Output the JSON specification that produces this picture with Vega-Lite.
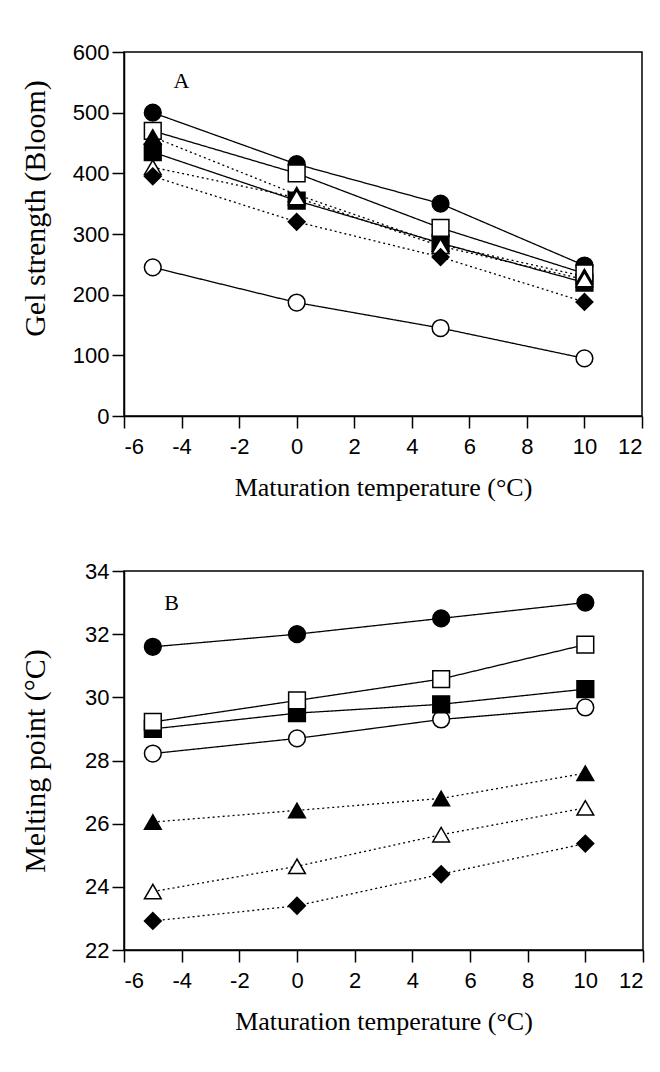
{
  "$schema": "https://vega.github.io/schema/vega-lite/v6.json",
  "padding": {"left": 19, "top": 40, "right": 5, "bottom": 5},
  "background": "white",
  "spacing": 58,
  "config": {
    "view": {"stroke": "black", "strokeWidth": 1.5},
    "axis": {
      "grid": false,
      "domainColor": "black",
      "domainWidth": 1.5,
      "tickColor": "black",
      "tickWidth": 1.5,
      "tickSize": 12,
      "labelFont": "Liberation Sans",
      "labelFontSize": 22,
      "labelColor": "black",
      "titleFont": "Liberation Serif",
      "titleFontWeight": "normal",
      "titleColor": "black"
    }
  },
  "datasets": {
    "gel": [
      {"series": "s1", "temp": -5, "value": 500},
      {"series": "s1", "temp": 0, "value": 415},
      {"series": "s1", "temp": 5, "value": 350},
      {"series": "s1", "temp": 10, "value": 248},
      {"series": "s2", "temp": -5, "value": 245},
      {"series": "s2", "temp": 0, "value": 187},
      {"series": "s2", "temp": 5, "value": 145},
      {"series": "s2", "temp": 10, "value": 95},
      {"series": "s3", "temp": -5, "value": 435},
      {"series": "s3", "temp": 0, "value": 355},
      {"series": "s3", "temp": 5, "value": 285},
      {"series": "s3", "temp": 10, "value": 220},
      {"series": "s4", "temp": -5, "value": 470},
      {"series": "s4", "temp": 0, "value": 400},
      {"series": "s4", "temp": 5, "value": 310},
      {"series": "s4", "temp": 10, "value": 235},
      {"series": "s5", "temp": -5, "value": 460},
      {"series": "s5", "temp": 0, "value": 365},
      {"series": "s5", "temp": 5, "value": 283},
      {"series": "s5", "temp": 10, "value": 230},
      {"series": "s6", "temp": -5, "value": 410},
      {"series": "s6", "temp": 0, "value": 360},
      {"series": "s6", "temp": 5, "value": 280},
      {"series": "s6", "temp": 10, "value": 225},
      {"series": "s7", "temp": -5, "value": 395},
      {"series": "s7", "temp": 0, "value": 320},
      {"series": "s7", "temp": 5, "value": 262},
      {"series": "s7", "temp": 10, "value": 188}
    ],
    "melt": [
      {"series": "s1", "temp": -5, "value": 31.6},
      {"series": "s1", "temp": 0, "value": 32.0},
      {"series": "s1", "temp": 5, "value": 32.5},
      {"series": "s1", "temp": 10, "value": 33.0},
      {"series": "s2", "temp": -5, "value": 28.22},
      {"series": "s2", "temp": 0, "value": 28.7},
      {"series": "s2", "temp": 5, "value": 29.3},
      {"series": "s2", "temp": 10, "value": 29.68},
      {"series": "s3", "temp": -5, "value": 29.0},
      {"series": "s3", "temp": 0, "value": 29.5},
      {"series": "s3", "temp": 5, "value": 29.78},
      {"series": "s3", "temp": 10, "value": 30.26},
      {"series": "s4", "temp": -5, "value": 29.22},
      {"series": "s4", "temp": 0, "value": 29.9},
      {"series": "s4", "temp": 5, "value": 30.58},
      {"series": "s4", "temp": 10, "value": 31.67},
      {"series": "s5", "temp": -5, "value": 26.05},
      {"series": "s5", "temp": 0, "value": 26.42},
      {"series": "s5", "temp": 5, "value": 26.8},
      {"series": "s5", "temp": 10, "value": 27.6},
      {"series": "s6", "temp": -5, "value": 23.85},
      {"series": "s6", "temp": 0, "value": 24.65},
      {"series": "s6", "temp": 5, "value": 25.65},
      {"series": "s6", "temp": 10, "value": 26.5},
      {"series": "s7", "temp": -5, "value": 22.92},
      {"series": "s7", "temp": 0, "value": 23.4},
      {"series": "s7", "temp": 5, "value": 24.4},
      {"series": "s7", "temp": 10, "value": 25.37}
    ],
    "labA": [{"label": "A", "temp": -4.0, "value": 553}],
    "labB": [{"label": "B", "temp": -4.35, "value": 33.0}]
  },
  "vconcat": [
    {
      "width": 518,
      "height": 364,
      "layer": [
        {
          "data": {"name": "gel"},
          "mark": {"type": "line", "color": "black", "strokeWidth": 1.3},
          "encoding": {
            "x": {"field": "temp", "type": "quantitative", "scale": {"domain": [-6, 12], "nice": false, "zero": false},
                  "axis": {"values": [-6, -4, -2, 0, 2, 4, 6, 8, 10, 12], "labelPadding": 8, "labelExpr": "replace(datum.label, '−', '-')", "title": "Maturation temperature (°C)", "titleFontSize": 26, "titlePadding": 17}},
            "y": {"field": "value", "type": "quantitative", "scale": {"domain": [0, 600], "nice": false},
                  "axis": {"values": [0, 100, 200, 300, 400, 500, 600], "labelPadding": 3, "title": "Gel strength (Bloom)", "titleFontSize": 30, "titlePadding": 22, "titleY": 156}},
            "detail": {"field": "series"},
            "strokeDash": {"field": "series", "type": "nominal", "legend": null,
                           "scale": {"domain": ["s1", "s2", "s3", "s4", "s5", "s6", "s7"], "range": [[1, 0], [1, 0], [1, 0], [1, 0], [2, 3], [2, 3], [2, 3]]}}
          }
        },
        {
          "data": {"name": "gel"},
          "mark": {"type": "point", "filled": true, "stroke": "black", "strokeWidth": 1.5, "opacity": 1},
          "encoding": {
            "x": {"field": "temp", "type": "quantitative"},
            "y": {"field": "value", "type": "quantitative"},
            "shape": {"field": "series", "type": "nominal", "legend": null,
                      "scale": {"domain": ["s1", "s2", "s3", "s4", "s5", "s6", "s7"], "range": ["circle", "circle", "square", "square", "triangle-up", "triangle-up", "diamond"]}},
            "size": {"field": "series", "type": "nominal", "legend": null,
                     "scale": {"domain": ["s1", "s2", "s3", "s4", "s5", "s6", "s7"], "range": [280, 280, 290, 290, 440, 440, 500]}},
            "fill": {"field": "series", "type": "nominal", "legend": null,
                     "scale": {"domain": ["s1", "s2", "s3", "s4", "s5", "s6", "s7"], "range": ["black", "white", "black", "white", "black", "white", "black"]}}
          }
        },
        {
          "data": {"name": "labA"},
          "mark": {"type": "text", "font": "Liberation Serif", "fontSize": 22, "color": "black", "align": "center", "baseline": "middle"},
          "encoding": {
            "x": {"field": "temp", "type": "quantitative"},
            "y": {"field": "value", "type": "quantitative"},
            "text": {"field": "label"}
          }
        }
      ]
    },
    {
      "width": 519,
      "height": 379,
      "layer": [
        {
          "data": {"name": "melt"},
          "mark": {"type": "line", "color": "black", "strokeWidth": 1.3},
          "encoding": {
            "x": {"field": "temp", "type": "quantitative", "scale": {"domain": [-6, 12], "nice": false, "zero": false},
                  "axis": {"values": [-6, -4, -2, 0, 2, 4, 6, 8, 10, 12], "labelPadding": 8, "labelExpr": "replace(datum.label, '−', '-')", "title": "Maturation temperature (°C)", "titleFontSize": 26, "titlePadding": 17}},
            "y": {"field": "value", "type": "quantitative", "scale": {"domain": [22, 34], "nice": false, "zero": false},
                  "axis": {"values": [22, 24, 26, 28, 30, 32, 34], "labelPadding": 3, "title": "Melting point (°C)", "titleFontSize": 30, "titlePadding": 34}},
            "detail": {"field": "series"},
            "strokeDash": {"field": "series", "type": "nominal", "legend": null,
                           "scale": {"domain": ["s1", "s2", "s3", "s4", "s5", "s6", "s7"], "range": [[1, 0], [1, 0], [1, 0], [1, 0], [2, 3], [2, 3], [2, 3]]}}
          }
        },
        {
          "data": {"name": "melt"},
          "mark": {"type": "point", "filled": true, "stroke": "black", "strokeWidth": 1.5, "opacity": 1},
          "encoding": {
            "x": {"field": "temp", "type": "quantitative"},
            "y": {"field": "value", "type": "quantitative"},
            "shape": {"field": "series", "type": "nominal", "legend": null,
                      "scale": {"domain": ["s1", "s2", "s3", "s4", "s5", "s6", "s7"], "range": ["circle", "circle", "square", "square", "triangle-up", "triangle-up", "diamond"]}},
            "size": {"field": "series", "type": "nominal", "legend": null,
                     "scale": {"domain": ["s1", "s2", "s3", "s4", "s5", "s6", "s7"], "range": [280, 280, 290, 290, 440, 440, 500]}},
            "fill": {"field": "series", "type": "nominal", "legend": null,
                     "scale": {"domain": ["s1", "s2", "s3", "s4", "s5", "s6", "s7"], "range": ["black", "white", "black", "white", "black", "white", "black"]}}
          }
        },
        {
          "data": {"name": "labB"},
          "mark": {"type": "text", "font": "Liberation Serif", "fontSize": 22, "color": "black", "align": "center", "baseline": "middle"},
          "encoding": {
            "x": {"field": "temp", "type": "quantitative"},
            "y": {"field": "value", "type": "quantitative"},
            "text": {"field": "label"}
          }
        }
      ]
    }
  ]
}
